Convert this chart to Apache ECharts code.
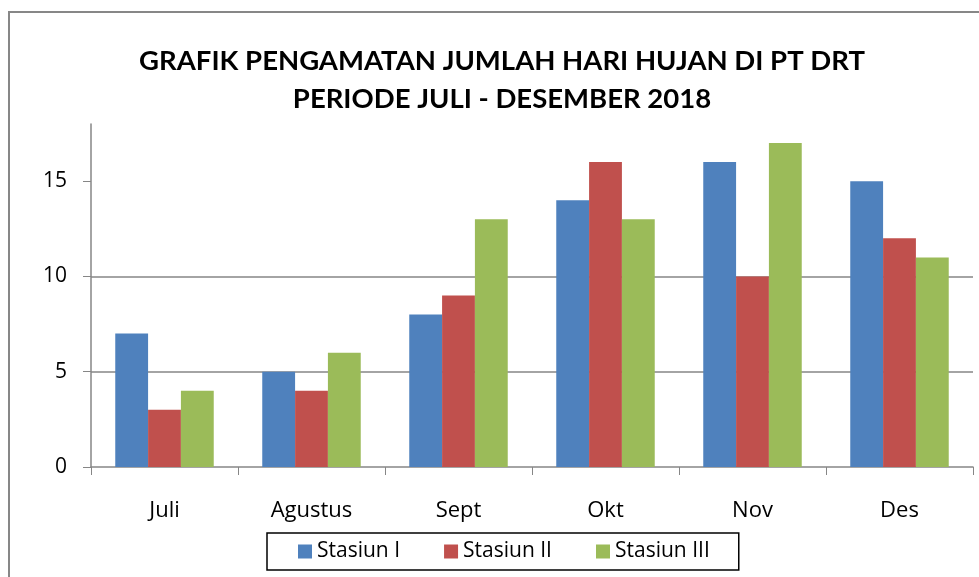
<!DOCTYPE html>
<html>
<head>
<meta charset="utf-8">
<script src="https://cdn.jsdelivr.net/npm/echarts@6/dist/echarts.min.js"></script>
<style>
  html, body { margin: 0; padding: 0; background: #fff; }
  #chart { width: 979px; height: 577px; }
</style>
</head>
<body>
<div id="chart"></div>
<script>
// data
var months = ['Juli', 'Agustus', 'Sept', 'Okt', 'Nov', 'Des'];
var stasiun1 = [7, 5, 8, 14, 16, 15];
var stasiun2 = [3, 4, 9, 16, 10, 12];
var stasiun3 = [4, 6, 13, 13, 17, 11];
var seriesNames = ['Stasiun I', 'Stasiun II', 'Stasiun III'];
var yTicks = [0, 5, 10, 15];

var chart = echarts.init(document.getElementById('chart'));
var font = '"Open Sans", Lato, sans-serif';
var titleFont = 'Lato, "Open Sans", sans-serif';

var option = {
  animation: false,
  color: ['#4f81bd', '#c0504d', '#9bbb59'],
  textStyle: { fontFamily: font },
  title: {
    text: 'GRAFIK PENGAMATAN JUMLAH HARI HUJAN DI PT DRT\nPERIODE JULI - DESEMBER 2018',
    left: 497,
    top: 37,
    textAlign: 'center',
    textStyle: { fontSize: 27.5, fontWeight: 'bold', color: '#000', lineHeight: 38, fontFamily: titleFont }
  },
  graphic: [{
    type: 'rect',
    shape: { x: 9, y: 12, width: 1000, height: 600 },
    style: { fill: 'none', stroke: '#878787', lineWidth: 2 },
    silent: true
  }],
  legend: {
    data: seriesNames,
    left: 267,
    top: 533,
    padding: [8, 29, 8, 31],
    borderColor: '#000',
    borderWidth: 1.5,
    itemWidth: 14,
    itemHeight: 14,
    itemGap: 44,
    icon: 'rect',
    textStyle: { fontSize: 21, color: '#000', fontFamily: font }
  },
  grid: { left: 91, right: 6, top: 124, bottom: 110, containLabel: false },
  xAxis: {
    type: 'category',
    data: months,
    boundaryGap: true,
    axisLine: { lineStyle: { color: '#868686', width: 1.5 } },
    axisTick: { show: true, length: 8, lineStyle: { color: '#868686' } },
    axisLabel: { fontSize: 22, color: '#000', margin: 33, fontFamily: font }
  },
  yAxis: {
    type: 'value',
    min: 0,
    max: 18,
    interval: 5,
    axisLine: { show: true, lineStyle: { color: '#868686', width: 1.5 } },
    axisTick: { show: true, length: 8, customValues: yTicks, lineStyle: { color: '#868686' } },
    axisLabel: { fontSize: 21, color: '#000', margin: 24, customValues: yTicks, fontFamily: font },
    splitLine: { show: true, showMinLine: false, showMaxLine: false, lineStyle: { color: '#868686', width: 1.5 } }
  },
  series: [
    { name: seriesNames[0], type: 'bar', data: stasiun1, barGap: 0, barCategoryGap: '33%' },
    { name: seriesNames[1], type: 'bar', data: stasiun2, barGap: 0, barCategoryGap: '33%' },
    { name: seriesNames[2], type: 'bar', data: stasiun3, barGap: 0, barCategoryGap: '33%' }
  ]
};

chart.setOption(option);
</script>
</body>
</html>
